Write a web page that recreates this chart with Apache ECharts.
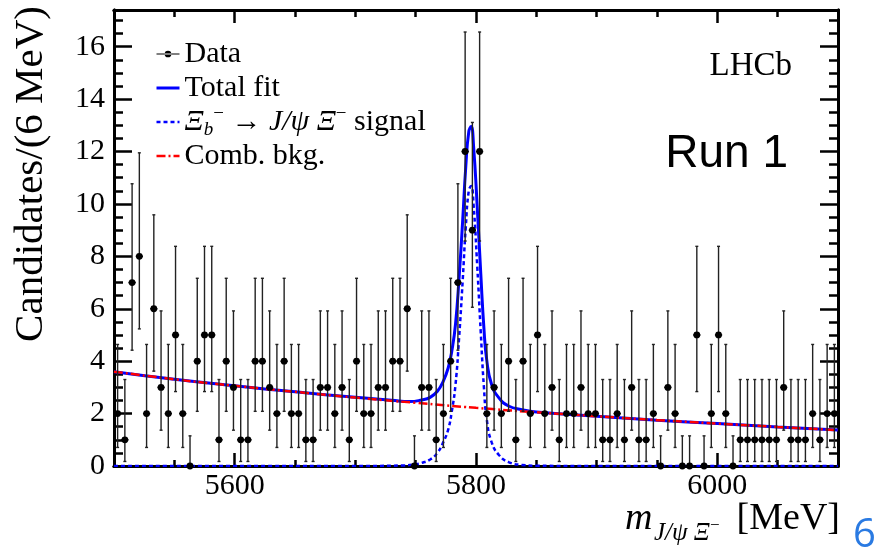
<!DOCTYPE html>
<html>
<head>
<meta charset="utf-8">
<script src="https://cdn.jsdelivr.net/npm/echarts@6/dist/echarts.min.js"></script>
<style>
  html, body { margin: 0; padding: 0; background: #fff; }
  #chart { width: 877px; height: 551px; }
</style>
</head>
<body>
<div id="chart"></div>
<script>
// 1. 数据
const BIN_START = 5500;
const BIN_WIDTH = 6;
const COUNTS = [
  2, 1, 7, 8, 2, 6, 3, 2, 5, 2, 0, 4, 5, 5, 1, 4, 3, 1, 1, 4, 4, 3, 2, 4, 2, 2,
  1, 1, 3, 3, 2, 3, 1, 4, 2, 2, 3, 3, 4, 4, 6, 0, 3, 3, 1, 2, 4, 7, 12, 9, 12,
  2, 3, 2, 4, 1, 4, 2, 5, 2, 3, 1, 2, 2, 3, 2, 2, 1, 1, 2, 1, 3, 1, 1, 2,
  0, 3, 2, 0, 0, 5, 0, 2, 5, 2, 0, 1, 1, 1, 1, 1, 1, 3, 1, 1, 1, 2, 1, 2, 2
];
// Poisson interval bounds for n = 0..12 (as drawn)
const POIS_LO = [0, 0.173, 0.708, 1.367, 2.086, 2.840, 3.620, 4.419, 5.232, 6.057, 6.891, 7.734, 8.585];
const POIS_HI = [1.15, 3.300, 4.638, 5.918, 7.163, 8.382, 9.584, 10.77, 11.95, 13.11, 14.27, 15.42, 16.56];

const TOT_X = [5500, 5550, 5600, 5650, 5700, 5730, 5745, 5755, 5762, 5768, 5773, 5777, 5780, 5783, 5786,
  5789, 5791.5, 5794, 5796, 5798, 5801, 5804, 5806.5, 5809, 5813, 5819, 5827, 5838, 5850, 5900, 5950, 6000, 6050, 6100];
const TOT_Y = [3.60, 3.31, 3.06, 2.83, 2.62, 2.51, 2.46, 2.52, 2.62, 2.85, 3.25, 3.75, 4.40, 5.40, 7.20,
  9.40, 11.4, 12.75, 12.95, 12.2, 9.9, 7.3, 5.3, 4.0, 3.1, 2.6, 2.29, 2.15, 2.06, 1.90, 1.75, 1.62, 1.49, 1.37];

const SIG_X = [5500, 5600, 5700, 5740, 5750, 5755, 5762, 5768, 5773, 5777, 5780, 5783, 5786, 5789, 5791.5,
  5794, 5796, 5798, 5801, 5804, 5806.5, 5809, 5813, 5819, 5827, 5838, 5850, 5900, 6000, 6100];
const SIG_Y = [0, 0, 0, 0.02, 0.07, 0.12, 0.25, 0.5, 0.92, 1.4, 2.1, 3.1, 4.9, 7.1, 9.1,
  10.5, 10.68, 9.95, 7.65, 5.05, 3.05, 1.75, 0.9, 0.42, 0.15, 0.04, 0.01, 0, 0, 0];

const BKG_X = [5500, 5550, 5600, 5650, 5700, 5750, 5800, 5850, 5900, 5950, 6000, 6050, 6100];
const BKG_Y = [3.60, 3.31, 3.06, 2.83, 2.61, 2.41, 2.22, 2.05, 1.90, 1.75, 1.62, 1.49, 1.37];

const X_LABELS = [5600, 5800, 6000];
const X_MINOR = [5550, 5650, 5700, 5750, 5850, 5900, 5950, 6050];
const Y_LABELS = [0, 2, 4, 6, 8, 10, 12, 14, 16];
const Y_MINOR = [0.5, 1, 1.5, 2.5, 3, 3.5, 4.5, 5, 5.5, 6.5, 7, 7.5, 8.5, 9, 9.5, 10.5, 11, 11.5,
  12.5, 13, 13.5, 14.5, 15, 15.5, 16.5, 17];

// 2. 常量与样式
const X_MIN = 5500, X_MAX = 6100, Y_MIN = 0, Y_MAX = 17.4;
const SERIF = '"Liberation Serif", "DejaVu Serif", serif';
const SANS = '"Liberation Sans", Arial, sans-serif';
const SIG_NAME = "signal";
const TOTAL_LINE = { color: "#0000ff", width: 3 };
const SIG_LINE = { color: "#0000ff", width: 2.5, type: [4, 3] };
const BKG_LINE = { color: "#ff0000", width: 2.5, type: [9, 3, 2, 3] };

const dataPoints = COUNTS.map((n, k) => [BIN_START + BIN_WIDTH * (k + 0.5), n, POIS_LO[n], POIS_HI[n]]);
const pairs = (xs, ys) => xs.map((x, i) => [x, ys[i]]);

function xAxisDef(position, ticks, len, labels) {
  return {
    type: "value", min: X_MIN, max: X_MAX, position,
    axisLine: { show: true, onZero: false, lineStyle: { color: "#000", width: 3 } },
    axisTick: { show: true, inside: true, length: len, customValues: ticks, lineStyle: { color: "#000", width: 2.5 } },
    axisLabel: labels
      ? { show: true, customValues: ticks, formatter: v => String(v), color: "#000", fontFamily: SERIF, fontSize: 30, margin: 5 }
      : { show: false },
    splitLine: { show: false }
  };
}
function yAxisDef(position, ticks, len, labels) {
  return {
    type: "value", min: Y_MIN, max: Y_MAX, position,
    axisLine: { show: true, onZero: false, lineStyle: { color: "#000", width: 3 } },
    axisTick: { show: true, inside: true, length: len, customValues: ticks, lineStyle: { color: "#000", width: 2.5 } },
    axisLabel: labels
      ? { show: true, customValues: ticks, formatter: v => String(v), color: "#000", fontFamily: SERIF, fontSize: 30, margin: 9 }
      : { show: false },
    splitLine: { show: false }
  };
}

// 3. 初始化
const chart = echarts.init(document.getElementById("chart"), null, { renderer: "canvas" });

chart.setOption({
  animation: false,
  backgroundColor: "#fff",
  grid: { left: 114, right: 39, top: 10, bottom: 85, containLabel: false },
  xAxis: [
    xAxisDef("bottom", X_LABELS, 13, true),
    xAxisDef("bottom", X_MINOR, 6, false),
    xAxisDef("top", X_LABELS, 13, false),
    xAxisDef("top", X_MINOR, 7, false)
  ],
  yAxis: [
    yAxisDef("left", Y_LABELS, 18, true),
    yAxisDef("left", Y_MINOR, 9, false),
    yAxisDef("right", Y_LABELS, 18, false),
    yAxisDef("right", Y_MINOR, 9, false)
  ],
  legend: {
    orient: "vertical", left: 155, top: 37, padding: 0, itemGap: 0,
    itemWidth: 23, itemHeight: 12,
    selectedMode: false,
    itemStyle: { opacity: 0 },
    data: [
      {
        name: "Data",
        icon: "path://M0,4.4 L24,4.4 L24,5.6 L0,5.6 Z M8.5,5 A3.5,3.5 0 1 0 15.5,5 A3.5,3.5 0 1 0 8.5,5 Z",
        itemStyle: { opacity: 1, color: "#000" }
      },
      { name: "Total fit", lineStyle: TOTAL_LINE },
      { name: SIG_NAME, lineStyle: SIG_LINE },
      { name: "Comb. bkg.", lineStyle: BKG_LINE }
    ],
    formatter: name => name === SIG_NAME
      ? "{i|Ξ}{sb|b}{sp|−} → {i|J/ψ Ξ}{sp|−} signal"
      : name,
    textStyle: {
      color: "#000", fontFamily: SERIF, fontSize: 30, lineHeight: 34,
      rich: {
        i: { fontFamily: SERIF, fontStyle: "italic", fontSize: 30, lineHeight: 34, color: "#000" },
        sb: { fontFamily: SERIF, fontStyle: "italic", fontSize: 19, lineHeight: 19, verticalAlign: "bottom", color: "#000" },
        sp: { fontFamily: SERIF, fontSize: 19, lineHeight: 19, verticalAlign: "top", color: "#000" }
      }
    }
  },
  series: [
    {
      name: "Total fit", type: "line", data: pairs(TOT_X, TOT_Y),
      showSymbol: false, symbol: "none", smooth: 0.5,
      lineStyle: TOTAL_LINE, itemStyle: { color: "#0000ff" }, z: 2
    },
    {
      name: SIG_NAME, type: "line", data: pairs(SIG_X, SIG_Y),
      showSymbol: false, symbol: "none", smooth: 0.5,
      lineStyle: SIG_LINE, itemStyle: { color: "#0000ff" }, z: 3
    },
    {
      name: "Comb. bkg.", type: "line", data: pairs(BKG_X, BKG_Y),
      showSymbol: false, symbol: "none", smooth: true,
      lineStyle: BKG_LINE, itemStyle: { color: "#ff0000" }, z: 4
    },
    {
      name: "Data", type: "custom", clip: false, z: 5,
      itemStyle: { color: "#000" },
      data: dataPoints,
      encode: { x: 0, y: 1 },
      renderItem: (params, api) => {
        const x = api.value(0), n = api.value(1);
        const c = api.coord([x, n]);
        const lo = api.coord([x, api.value(2)]);
        const hi = api.coord([x, api.value(3)]);
        const l = api.coord([x - BIN_WIDTH / 2, n]);
        const r = api.coord([x + BIN_WIDTH / 2, n]);
        const bar = { stroke: "#222", lineWidth: 1.4 };
        return {
          type: "group",
          children: [
            { type: "line", shape: { x1: c[0], y1: lo[1], x2: c[0], y2: hi[1] }, style: bar },
            { type: "line", shape: { x1: c[0] - 1.5, y1: hi[1], x2: c[0] + 1.5, y2: hi[1] }, style: bar },
            { type: "line", shape: { x1: c[0] - 1.5, y1: lo[1], x2: c[0] + 1.5, y2: lo[1] }, style: bar },
            { type: "line", shape: { x1: l[0], y1: c[1], x2: r[0], y2: c[1] }, style: { stroke: "#000", lineWidth: 1.5 } },
            { type: "circle", shape: { cx: c[0], cy: c[1], r: 3.4 }, style: { fill: "#000" } }
          ]
        };
      }
    }
  ],
  graphic: [
    {
      type: "text", x: 31, y: 6, rotation: Math.PI / 2,
      style: { text: "Candidates/(6 MeV)", font: "41px " + SERIF, fill: "#000", textAlign: "right", textVerticalAlign: "middle" }
    },
    { type: "text", x: 625, y: 519, style: { text: "m", font: "italic 38px " + SERIF, fill: "#000", textAlign: "left", textVerticalAlign: "middle" } },
    { type: "text", x: 654, y: 533, style: { text: "J/ψ Ξ", font: "italic 25px " + SERIF, fill: "#000", textAlign: "left", textVerticalAlign: "middle" } },
    { type: "text", x: 710, y: 526, style: { text: "−", font: "17px " + SERIF, fill: "#000", textAlign: "left", textVerticalAlign: "middle" } },
    { type: "text", x: 840, y: 519, style: { text: "[MeV]", font: "38px " + SERIF, fill: "#000", textAlign: "right", textVerticalAlign: "middle" } },
    { type: "text", x: 792, y: 66, style: { text: "LHCb", font: "33px " + SERIF, fill: "#000", textAlign: "right", textVerticalAlign: "middle" } },
    { type: "text", x: 788, y: 154, style: { text: "Run 1", font: "46px " + SANS, fill: "#000", textAlign: "right", textVerticalAlign: "middle" } },
    { type: "text", x: 853, y: 536, style: { text: "6", font: "40px \"Open Sans\", sans-serif", fill: "#2a7ae2", textAlign: "left", textVerticalAlign: "middle" } }
  ]
});

window.addEventListener("resize", () => chart.resize());
</script>
</body>
</html>
